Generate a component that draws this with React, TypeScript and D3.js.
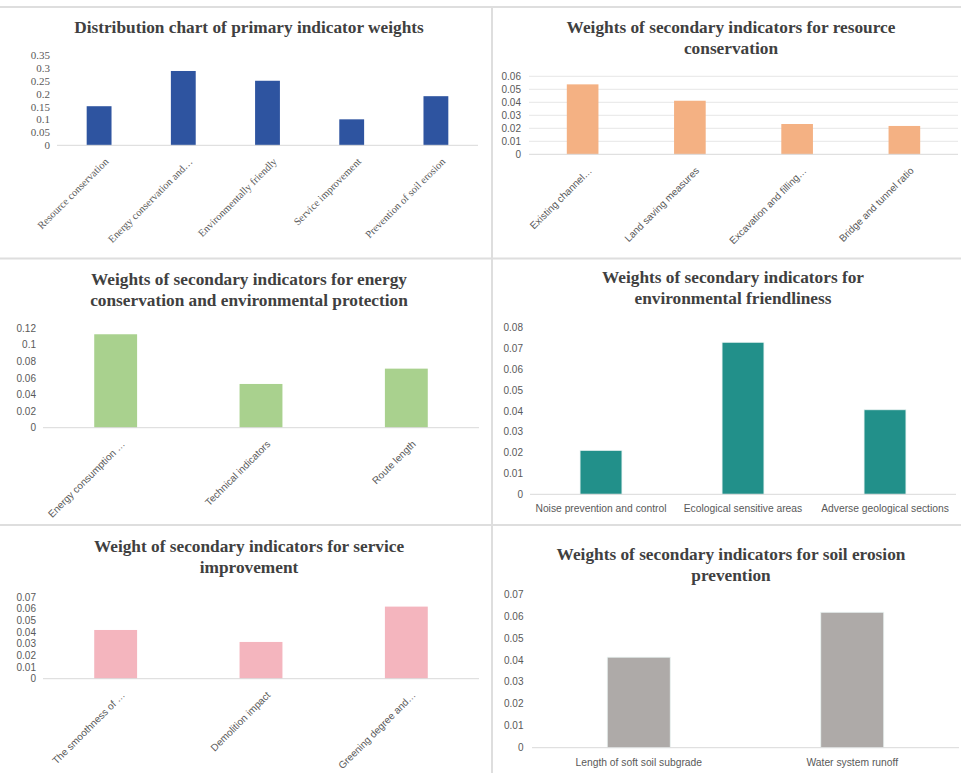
import * as d3 from "d3";
import React, { useEffect, useRef } from "react";

// ---- data ----
const primaryCategories = [
  "Resource conservation",
  "Energy conservation and…",
  "Environmentally friendly",
  "Service improvement",
  "Prevention of soil erosion",
];
const primaryWeights = [0.152, 0.289, 0.251, 0.101, 0.191];

const resourceCategories = [
  "Existing channel…",
  "Land saving measures",
  "Excavation and filling…",
  "Bridge and tunnel ratio",
];
const resourceWeights = [0.0538, 0.0412, 0.0233, 0.0218];

const energyCategories = ["Energy consumption …", "Technical indicators", "Route length"];
const energyWeights = [0.1128, 0.0528, 0.0713];

const envCategories = [
  "Noise prevention and control",
  "Ecological sensitive areas",
  "Adverse geological sections",
];
const envWeights = [0.0211, 0.073, 0.0406];

const serviceCategories = ["The smoothness of …", "Demolition impact", "Greening degree and…"];
const serviceWeights = [0.0419, 0.0316, 0.062];

const soilCategories = ["Length of soft soil subgrade", "Water system runoff"];
const soilWeights = [0.0413, 0.0618];

// ---- layout ----
interface Panel {
  title: string[];
  titleX: number;
  titleY: number;
  categories: string[];
  values: number[];
  color: string;
  yMax: number;
  yStep: number;
  x0: number;
  x1: number;
  yTop: number;
  yBase: number;
  tickRight: number;
  serif?: boolean;
  grid?: boolean;
  rotate: boolean;
  outline?: boolean;
}

const panels: Panel[] = [
  {
    title: ["Distribution chart of primary indicator weights"],
    titleX: 249, titleY: 33,
    categories: primaryCategories, values: primaryWeights, color: "#2E54A0",
    yMax: 0.35, yStep: 0.05, x0: 57, x1: 478, yTop: 55.3, yBase: 145.3, tickRight: 50,
    serif: true, rotate: true,
  },
  {
    title: ["Weights of secondary indicators for resource", "conservation"],
    titleX: 731, titleY: 33,
    categories: resourceCategories, values: resourceWeights, color: "#F4B183",
    yMax: 0.06, yStep: 0.01, x0: 529, x1: 958, yTop: 76.3, yBase: 154.3, tickRight: 521,
    grid: true, rotate: true,
  },
  {
    title: ["Weights of secondary indicators for energy", "conservation and environmental protection"],
    titleX: 249, titleY: 285,
    categories: energyCategories, values: energyWeights, color: "#A9D18E",
    yMax: 0.12, yStep: 0.02, x0: 43, x1: 479, yTop: 328.3, yBase: 427.7, tickRight: 36,
    rotate: true,
  },
  {
    title: ["Weights of secondary indicators for", "environmental friendliness"],
    titleX: 733, titleY: 283,
    categories: envCategories, values: envWeights, color: "#22908A",
    yMax: 0.08, yStep: 0.01, x0: 530, x1: 956, yTop: 327.7, yBase: 494.3, tickRight: 523,
    rotate: false, outline: true,
  },
  {
    title: ["Weight of secondary indicators for service", "improvement"],
    titleX: 249, titleY: 552,
    categories: serviceCategories, values: serviceWeights, color: "#F4B5BE",
    yMax: 0.07, yStep: 0.01, x0: 43, x1: 479, yTop: 597.3, yBase: 678.7, tickRight: 36,
    rotate: true,
  },
  {
    title: ["Weights of secondary indicators for soil erosion", "prevention"],
    titleX: 731, titleY: 560,
    categories: soilCategories, values: soilWeights, color: "#AEAAA8",
    yMax: 0.07, yStep: 0.01, x0: 532, x1: 959, yTop: 594.3, yBase: 747.7, tickRight: 523.5,
    rotate: false, outline: true,
  },
];

const W = 961;
const H = 773;
const SERIF = "'Liberation Serif', 'Times New Roman', serif";
const SANS = "'Liberation Sans', Arial, sans-serif";

const App: React.FC = () => {
  const ref = useRef<SVGSVGElement | null>(null);

  useEffect(() => {
    if (!ref.current) return;
    const svg = d3.select(ref.current);
    svg.selectAll("*").remove();

    svg.append("rect").attr("width", W).attr("height", H).attr("fill", "#fff");

    // panel frames (spreadsheet-like light borders)
    const frame = svg.append("g").attr("stroke", "#DEDEDE").attr("stroke-width", 2);
    frame.append("line").attr("x1", 0).attr("x2", W).attr("y1", 7).attr("y2", 7);
    frame.append("line").attr("x1", 0).attr("x2", W).attr("y1", 258.5).attr("y2", 258.5);
    frame.append("line").attr("x1", 0).attr("x2", W).attr("y1", 525).attr("y2", 525);
    frame.append("line").attr("x1", 492).attr("x2", 492).attr("y1", 7).attr("y2", H);

    panels.forEach((p) => {
      const g = svg.append("g");
      const y = d3.scaleLinear().domain([0, p.yMax]).range([p.yBase, p.yTop]);
      const x = d3
        .scaleBand<string>()
        .domain(p.categories)
        .range([p.x0, p.x1])
        .paddingInner(0.705)
        .paddingOuter(0.3525);

      // title
      const title = g
        .append("text")
        .attr("x", p.titleX)
        .attr("y", p.titleY)
        .attr("text-anchor", "middle")
        .style("font-family", SERIF)
        .style("font-weight", "bold")
        .style("font-size", "17.3px")
        .style("fill", "#404040");
      p.title.forEach((line, i) => {
        title.append("tspan").attr("x", p.titleX).attr("dy", i === 0 ? 0 : 21).text(line);
      });

      const ticks = d3.range(0, p.yMax + p.yStep / 2, p.yStep);
      const fmt = (v: number) => String(+v.toFixed(3));

      if (p.grid) {
        g.selectAll("line.grid")
          .data(ticks.slice(1))
          .enter()
          .append("line")
          .attr("x1", p.x0)
          .attr("x2", p.x1)
          .attr("y1", (d) => y(d))
          .attr("y2", (d) => y(d))
          .attr("stroke", "#E6E6E6")
          .attr("stroke-width", 1);
      }

      g.selectAll("text.tick")
        .data(ticks)
        .enter()
        .append("text")
        .attr("x", p.tickRight)
        .attr("y", (d) => y(d))
        .attr("dy", "0.35em")
        .attr("text-anchor", "end")
        .style("font-family", p.serif ? SERIF : SANS)
        .style("font-size", p.serif ? "11px" : "10px")
        .style("fill", "#595959")
        .text((d) => fmt(d));

      // bars
      g.selectAll("rect.bar")
        .data(p.values)
        .enter()
        .append("rect")
        .attr("x", (_, i) => x(p.categories[i]) as number)
        .attr("y", (d) => y(d))
        .attr("width", x.bandwidth())
        .attr("height", (d) => p.yBase - y(d))
        .attr("fill", p.color)
        .attr("stroke", p.outline ? "#EAF3F2" : "none")
        .attr("stroke-width", p.outline ? 0.8 : 0);

      // baseline
      g.append("line")
        .attr("x1", p.x0)
        .attr("x2", p.x1)
        .attr("y1", p.yBase)
        .attr("y2", p.yBase)
        .attr("stroke", "#D9D9D9")
        .attr("stroke-width", 1);

      // category labels
      const labels = g
        .selectAll("text.cat")
        .data(p.categories)
        .enter()
        .append("text")
        .style("font-family", p.serif ? SERIF : SANS)
        .style("font-size", p.serif ? "10.5px" : p.rotate ? "10px" : "10.3px")
        .style("fill", "#595959")
        .text((d) => d);

      if (p.rotate) {
        labels
          .attr("text-anchor", "end")
          .attr(
            "transform",
            (d) =>
              `translate(${(x(d) as number) + x.bandwidth() / 2 + 10},${p.yBase + 17}) rotate(-45)`
          );
      } else {
        labels
          .attr("text-anchor", "middle")
          .attr("x", (d) => (x(d) as number) + x.bandwidth() / 2)
          .attr("y", p.yBase + 18);
      }
    });
  }, []);

  return (
    <svg
      ref={ref}
      width={W}
      height={H}
      style={{ position: "absolute", left: 0, top: 0, display: "block" }}
    ></svg>
  );
};

export default App;
